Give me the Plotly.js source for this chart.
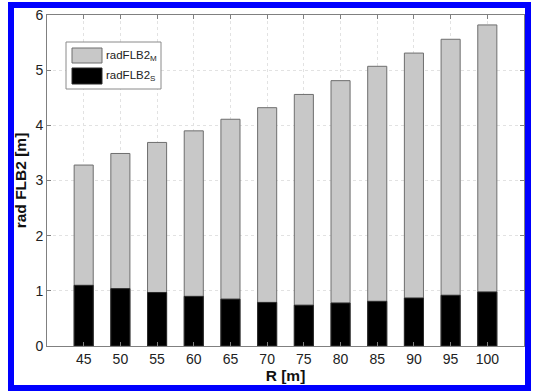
<!DOCTYPE html>
<html>
<head>
<meta charset="utf-8">
<script src="https://cdn.plot.ly/plotly-3.0.1.min.js"></script>
<style>
  html, body { margin: 0; padding: 0; background: #ffffff; }
  #wrap { position: relative; width: 534px; height: 392px; overflow: hidden; }
  #chart { position: absolute; left: 0; top: 0; width: 534px; height: 392px; }
  #frame { position: absolute; left: 8px; top: 2px; width: 523px; height: 389px;
           box-sizing: border-box; border: 6px solid #0000ff; pointer-events: none; }
</style>
</head>
<body>
<div id="wrap">
  <div id="chart"></div>
  <div id="frame"></div>
</div>
<script>
// Data
const radiusR = [45, 50, 55, 60, 65, 70, 75, 80, 85, 90, 95, 100];
const radFLB2_M = [3.28, 3.49, 3.69, 3.90, 4.11, 4.32, 4.56, 4.81, 5.07, 5.31, 5.56, 5.82];
const radFLB2_S = [1.10, 1.04, 0.97, 0.90, 0.85, 0.79, 0.74, 0.78, 0.81, 0.87, 0.92, 0.98];
const yTicks = [0, 1, 2, 3, 4, 5, 6];
const legendLabels = ['radFLB2<sub>M</sub>', 'radFLB2<sub>S</sub>'];

const FONT = '"Liberation Sans", Arial, Helvetica, sans-serif';
const grayFill = '#c8c8c8';

const traces = [
  {
    type: 'bar', x: radiusR, y: radFLB2_M, name: 'radFLB2_M', width: 2.6,
    marker: { color: grayFill, line: { color: '#6e6e6e', width: 1 } },
    hoverinfo: 'x+y'
  },
  {
    type: 'bar', x: radiusR, y: radFLB2_S, name: 'radFLB2_S', width: 2.6,
    marker: { color: '#000000', line: { color: '#2a2a2a', width: 1 } },
    hoverinfo: 'x+y'
  }
];

// Legend geometry (paper coords of the plot area)
const L = 47, R = 524, T = 15, B = 346;
const px = v => (v - L) / (R - L);
const py = v => (B - v) / (B - T);

const shapes = [
  { type: 'rect', xref: 'paper', yref: 'paper', x0: px(66), x1: px(161), y0: py(89), y1: py(42),
    fillcolor: '#ffffff', line: { color: '#8a8a8a', width: 1 }, layer: 'above' },
  { type: 'rect', xref: 'paper', yref: 'paper', x0: px(72), x1: px(102), y0: py(63), y1: py(48),
    fillcolor: grayFill, line: { color: '#6e6e6e', width: 1 }, layer: 'above' },
  { type: 'rect', xref: 'paper', yref: 'paper', x0: px(72), x1: px(102), y0: py(84), y1: py(68),
    fillcolor: '#000000', line: { color: '#2a2a2a', width: 1 }, layer: 'above' }
];

const annotations = [
  { xref: 'paper', yref: 'paper', x: px(104), y: py(56), xanchor: 'left', yanchor: 'middle',
    text: legendLabels[0], showarrow: false, font: { family: FONT, size: 11.5, color: '#222' } },
  { xref: 'paper', yref: 'paper', x: px(104), y: py(76), xanchor: 'left', yanchor: 'middle',
    text: legendLabels[1], showarrow: false, font: { family: FONT, size: 11.5, color: '#222' } }
];

const layout = {
  width: 534, height: 392,
  margin: { l: L, r: 534 - R, t: T, b: 392 - B, pad: 0 },
  paper_bgcolor: '#ffffff', plot_bgcolor: '#ffffff',
  barmode: 'overlay',
  showlegend: false,
  font: { family: FONT, size: 14, color: '#222' },
  xaxis: {
    range: [40, 105], tickvals: radiusR, ticktext: radiusR.map(String),
    ticks: 'inside', ticklen: 4, tickcolor: '#808080', mirror: 'ticks',
    showline: true, linecolor: '#808080', linewidth: 1,
    showgrid: true, gridcolor: '#e2e2e2', griddash: 'dot', zeroline: false,
    tickfont: { family: FONT, size: 14, color: '#222' },
    title: { text: 'R [m]', font: { family: FONT, size: 15.5, color: '#111', weight: 'bold' }, standoff: 2 }
  },
  yaxis: {
    range: [0, 6], tickvals: yTicks,
    ticks: 'inside', ticklen: 4, tickcolor: '#808080', mirror: 'ticks',
    showline: true, linecolor: '#808080', linewidth: 1,
    showgrid: true, gridcolor: '#e2e2e2', griddash: 'dot', zeroline: false,
    tickfont: { family: FONT, size: 14, color: '#222' },
    title: { text: 'rad FLB2 [m]', font: { family: FONT, size: 15.5, color: '#111', weight: 'bold' }, standoff: 4 }
  },
  shapes: shapes,
  annotations: annotations
};

Plotly.newPlot('chart', traces, layout, { staticPlot: true, displayModeBar: false });
</script>
</body>
</html>
